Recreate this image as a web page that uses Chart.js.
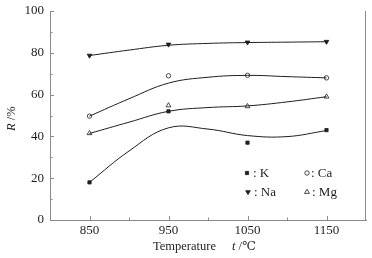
<!DOCTYPE html>
<html>
<head>
<meta charset="utf-8">
<script src="https://cdn.jsdelivr.net/npm/chart.js@4.4.1/dist/chart.umd.min.js"></script>
<style>
  html, body { margin: 0; padding: 0; background: #fff; }
  #wrap { width: 372px; height: 258px; position: relative; }
</style>
</head>
<body>
<div id="wrap"><canvas id="c"></canvas></div>
<script>
// measured points
var temps = [850, 950, 1050, 1150];
var kVals = [18, 52, 37, 43];
var naVals = [78.7, 84, 85, 85.3];
var caVals = [49.7, 69, 69.2, 68];
var mgVals = [41.5, 54.8, 54.4, 59];

// fitted curves
var fitTemps = [850, 900, 950, 1000, 1050, 1100, 1150];
var kFit = [18, 33, 44.1, 43.5, 40.4, 39.9, 42.8];
var naFit = [78.7, 81.3, 83.6, 84.5, 84.9, 85.1, 85.3];
var caFit = [49.7, 58, 65.5, 68.3, 69.2, 68.6, 68];
var mgFit = [41.4, 46.8, 52, 53.8, 54.6, 56.5, 59];

var xTicks = [850, 950, 1050, 1150];
var yTicks = [0, 20, 40, 60, 80, 100];

var axisColor = "#8a8a8a";
var inkColor = "#1e1e1e";
var serif = '"Liberation Serif", "DejaVu Serif", serif';

function pts(xs, ys) {
  return xs.map(function (t, i) { return { x: t, y: ys[i] }; });
}

function fitSet(vals) {
  return {
    type: "line",
    data: pts(fitTemps, vals),
    borderColor: inkColor,
    borderWidth: 1,
    pointRadius: 0,
    tension: 0.4,
    fill: false
  };
}

var markerStyles = {
  K: { pointStyle: "rect", radius: 2.3, rotation: 0, fill: inkColor },
  Na: { pointStyle: "triangle", radius: 2.7, rotation: 180, fill: inkColor },
  Ca: { pointStyle: "circle", radius: 2.2, rotation: 0, fill: "#fff" },
  Mg: { pointStyle: "triangle", radius: 2.8, rotation: 0, fill: "#fff" }
};

function markSet(name, vals) {
  var m = markerStyles[name];
  return {
    type: "scatter",
    label: name,
    data: pts(temps, vals),
    pointStyle: m.pointStyle,
    rotation: m.rotation,
    pointRadius: m.radius,
    pointBackgroundColor: m.fill,
    pointBorderColor: inkColor,
    pointBorderWidth: 0.8,
    showLine: false
  };
}

var decor = {
  id: "decor",
  afterDraw: function (chart) {
    var ctx = chart.ctx;
    var a = chart.chartArea;
    var x = chart.scales.x, y = chart.scales.y;
    ctx.save();
    ctx.strokeStyle = axisColor;
    ctx.lineWidth = 1;
    ctx.beginPath();
    ctx.moveTo(a.right - 0.5, a.top);
    ctx.lineTo(a.right - 0.5, a.bottom);
    ctx.stroke();

    // inward ticks on y
    for (var i = 0; i < yTicks.length; i++) {
      var py = Math.round(y.getPixelForValue(yTicks[i])) + 0.5;
      ctx.beginPath(); ctx.moveTo(a.left, py); ctx.lineTo(a.left + 4, py); ctx.stroke();
      if (i < yTicks.length - 1) {
        var pm = Math.round(y.getPixelForValue((yTicks[i] + yTicks[i + 1]) / 2)) + 0.5;
        ctx.beginPath(); ctx.moveTo(a.left, pm); ctx.lineTo(a.left + 2.5, pm); ctx.stroke();
      }
    }
    // inward ticks on x
    for (var j = 0; j < xTicks.length; j++) {
      var px = Math.round(x.getPixelForValue(xTicks[j])) + 0.5;
      ctx.beginPath(); ctx.moveTo(px, a.bottom); ctx.lineTo(px, a.bottom - 4); ctx.stroke();
      if (j < xTicks.length - 1) {
        var qm = Math.round(x.getPixelForValue((xTicks[j] + xTicks[j + 1]) / 2)) + 0.5;
        ctx.beginPath(); ctx.moveTo(qm, a.bottom); ctx.lineTo(qm, a.bottom - 2.5); ctx.stroke();
      }
    }

    // axis titles
    ctx.fillStyle = inkColor;
    ctx.textBaseline = "alphabetic";
    ctx.textAlign = "left";
    ctx.font = "12.5px " + serif;
    ctx.fillText("Temperature", 153, 250);
    ctx.font = "italic 12.5px " + serif;
    ctx.fillText("t", 232, 250);
    var tw = ctx.measureText("t").width;
    ctx.font = "12.5px " + serif;
    ctx.fillText(" /\u2103", 232 + tw, 250);

    ctx.save();
    ctx.translate(15, 131);
    ctx.rotate(-Math.PI / 2);
    ctx.font = "italic 12.5px " + serif;
    ctx.fillText("R", 0, 0);
    var rw = ctx.measureText("R").width;
    ctx.font = "12.5px " + serif;
    ctx.fillText(" /%", rw, 0);
    ctx.restore();

    // legend inside the plot
    var items = [
      ["K", 247, 173, 253], ["Ca", 307, 173, 311],
      ["Na", 248, 192, 254], ["Mg", 307, 192, 312]
    ];
    ctx.font = "13px " + serif;
    ctx.textBaseline = "middle";
    items.forEach(function (it) {
      var m = markerStyles[it[0]];
      ctx.fillStyle = m.fill;
      ctx.strokeStyle = inkColor;
      ctx.lineWidth = 0.8;
      Chart.helpers.drawPoint(ctx, { pointStyle: m.pointStyle, radius: m.radius, rotation: m.rotation, borderWidth: 0.8 }, it[1], it[2]);
      ctx.fillStyle = inkColor;
      ctx.fillText(": " + it[0], it[3], it[2] + 1);
    });
    ctx.restore();
  }
};

new Chart(document.getElementById("c"), {
  type: "scatter",
  data: {
    datasets: [
      fitSet(kFit), fitSet(naFit), fitSet(caFit), fitSet(mgFit),
      markSet("K", kVals), markSet("Na", naVals), markSet("Ca", caVals), markSet("Mg", mgVals)
    ]
  },
  options: {
    responsive: true,
    maintainAspectRatio: false,
    animation: false,
    layout: { padding: { left: 0, right: 6, top: 11, bottom: 0 } },
    plugins: { legend: { display: false }, tooltip: { enabled: false } },
    scales: {
      x: {
        type: "linear",
        min: 800,
        max: 1200,
        afterBuildTicks: function (s) { s.ticks = xTicks.map(function (v) { return { value: v }; }); },
        afterFit: function (s) { s.height = 38; s.paddingLeft = 0; s.paddingRight = 0; },
        grid: { display: false, drawTicks: false },
        border: { color: axisColor, width: 1 },
        ticks: {
          padding: 3, color: inkColor, font: { family: serif, size: 13 }, maxRotation: 0,
          callback: function (v) { return String(v); }
        }
      },
      y: {
        min: 0,
        max: 100,
        afterBuildTicks: function (s) { s.ticks = yTicks.map(function (v) { return { value: v }; }); },
        afterFit: function (s) { s.width = 50; s.paddingTop = 0; s.paddingBottom = 0; },
        grid: { display: false, drawTicks: false },
        border: { color: axisColor, width: 1 },
        ticks: { padding: 6, color: inkColor, font: { family: serif, size: 13 } }
      }
    }
  },
  plugins: [decor]
});
</script>
</body>
</html>
